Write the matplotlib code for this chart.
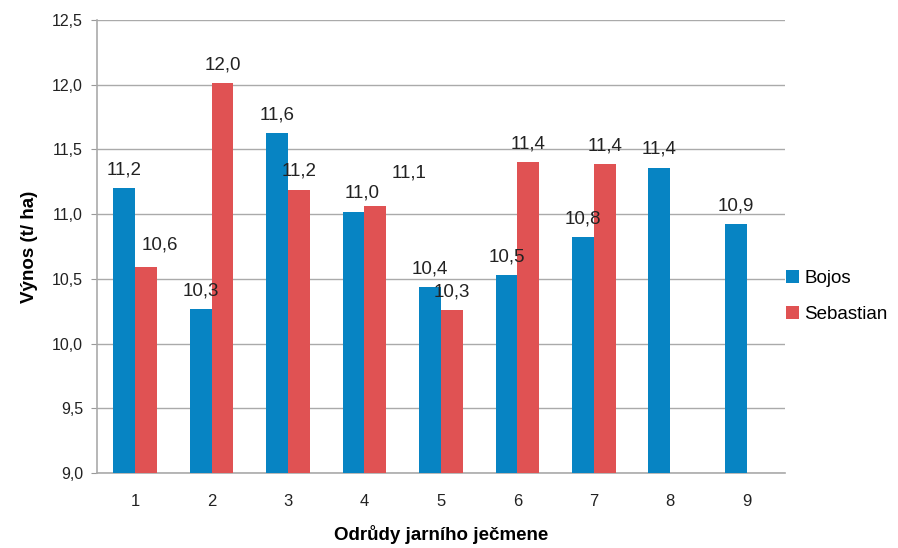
import matplotlib.pyplot as plt
import numpy as np

plt.rcParams['font.family'] = ['Liberation Sans', 'DejaVu Sans']

odrudy = ['1', '2', '3', '4', '5', '6', '7', '8', '9']
bojos = [11.20, 10.27, 11.63, 11.02, 10.44, 10.53, 10.82, 11.36, 10.92]
sebastian = [10.59, 12.01, 11.19, 11.06, 10.26, 11.40, 11.39, np.nan, np.nan]
yticks = [9.0, 9.5, 10.0, 10.5, 11.0, 11.5, 12.0, 12.5]

c_blue = '#0784C3'
c_red = '#E05253'

# label nudges (points) where the labels were moved by hand in the original
nudge = {('b', 3): (6, 0), ('s', 0): (10, 3), ('s', 3): (24, 11)}

fig = plt.figure(figsize=(8.98, 5.48), dpi=100)
ax = fig.add_axes([0.108, 0.137, 0.766, 0.8265])

x = np.arange(len(odrudy))
w = 0.285
b1 = ax.bar(x - w/2, bojos, w, color=c_blue, label='Bojos', zorder=3)
b2 = ax.bar(x + w/2, sebastian, w, color=c_red, label='Sebastian', zorder=3)

def fmt(v):
    return ('%.1f' % v).replace('.', ',')

for key, bars, vals in (('b', b1, bojos), ('s', b2, sebastian)):
    for i, (r, v) in enumerate(zip(bars, vals)):
        if np.isnan(v):
            continue
        dx, dy = nudge.get((key, i), (0, 0))
        ax.annotate(fmt(v), (r.get_x() + r.get_width()/2, v),
                    xytext=(dx, 13 + dy), textcoords='offset points',
                    ha='center', va='center', fontsize=13.5, color='#222222', zorder=4)

ax.set_ylim(9.0, 12.5)
ax.set_xlim(-0.5, len(odrudy) - 0.5)
ax.set_yticks(yticks)
ax.set_yticklabels([fmt(t) for t in yticks], fontsize=11.5, color='#222222')
ax.set_xticks(x)
ax.set_xticklabels(odrudy, fontsize=12, color='#222222')
ax.tick_params(axis='x', length=0, pad=15)
ax.tick_params(axis='y', length=4, color='#999999', pad=6)
ax.yaxis.grid(True, color='#aaaaaa', lw=1, zorder=0)
for s in ('top', 'right'):
    ax.spines[s].set_visible(False)
for s in ('left', 'bottom'):
    ax.spines[s].set_color('#aaaaaa')
    ax.spines[s].set_linewidth(1.2)

ax.set_xlabel('Odrůdy jarního ječmene', fontsize=13.5, fontweight='bold', labelpad=12)
ax.set_ylabel('Výnos (t/ ha)', fontsize=13.5, fontweight='bold', labelpad=10)

ax.legend(loc='center left', bbox_to_anchor=(0.985, 0.39), frameon=False,
          fontsize=13.5, handlelength=0.7, handleheight=0.7, handletextpad=0.3,
          labelspacing=1.0, borderaxespad=0.2)

fig.savefig('out.png', dpi=100)
